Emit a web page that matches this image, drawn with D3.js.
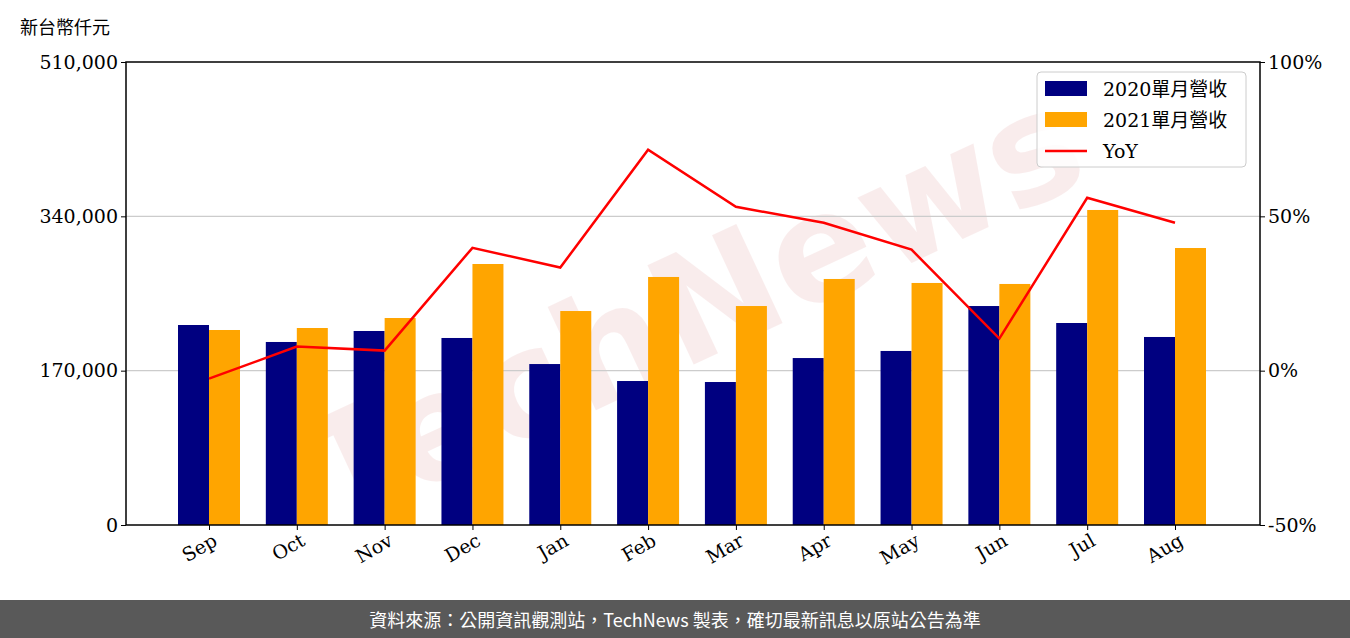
<!DOCTYPE html><html><head><meta charset="utf-8"><script src="https://cdn.jsdelivr.net/npm/d3@7"></script>
<style>body{margin:0;background:#fff}</style></head><body><svg id="c" width="1350" height="638"></svg><script>
const months=["Sep","Oct","Nov","Dec","Jan","Feb","Mar","Apr","May","Jun","Jul","Aug"];
const rev2020=[220300,201600,213700,206000,177300,158600,157500,183900,191700,241200,222500,207100];
const rev2021=[214800,217000,228000,287500,235700,273200,241200,271000,266600,265500,347000,305100];
const yoy=[-2.6,7.8,6.5,39.8,33.4,71.6,53.1,47.9,39.2,10.4,56.0,47.9];
const leftTicks=[0,170000,340000,510000];
const rightTicks=[-50,0,50,100];
const svg=d3.select("#c");
const L=126,R=1260,T=62,B=525;
const x=d3.scaleLinear().domain([0,11]).range([209,1175]);
const y=d3.scaleLinear().domain([0,510000]).range([B,T]);
const y2=d3.scaleLinear().domain([-50,100]).range([B,T]);
const bw=31;
const serif="DejaVu Serif";
svg.append("text").attr("x",690).attr("y",360).attr("text-anchor","middle").attr("font-family","DejaVu Sans").attr("font-weight","bold").attr("font-size",150)
 .attr("transform","rotate(-25,690,300)").attr("fill","#d88").attr("opacity",0.15).text("TechNews");
svg.selectAll(".g").data([170000,340000]).enter().append("line").attr("x1",L).attr("x2",R).attr("y1",d=>y(d)).attr("y2",d=>y(d)).attr("stroke","#ccc").attr("stroke-width",1.2);
svg.selectAll(".b1").data(rev2020).enter().append("rect").attr("x",(d,i)=>x(i)-bw).attr("width",bw).attr("y",d=>y(d)).attr("height",d=>B-y(d)).attr("fill","#000080");
svg.selectAll(".b2").data(rev2021).enter().append("rect").attr("x",(d,i)=>x(i)).attr("width",bw).attr("y",d=>y(d)).attr("height",d=>B-y(d)).attr("fill","#ffa500");
svg.append("path").datum(yoy).attr("d",d3.line().x((d,i)=>x(i)).y(d=>y2(d))).attr("fill","none").attr("stroke","red").attr("stroke-width",2.5);
svg.append("rect").attr("x",L).attr("y",T).attr("width",R-L).attr("height",B-T).attr("fill","none").attr("stroke","#000").attr("stroke-width",1.5);
const la=svg.append("g").attr("transform",`translate(${L},0)`).call(d3.axisLeft(y).tickValues(leftTicks).tickFormat(d3.format(",")).tickSize(5));
const ra=svg.append("g").attr("transform",`translate(${R},0)`).call(d3.axisRight(y2).tickValues(rightTicks).tickFormat(d=>d+"%").tickSize(5));
const ba=svg.append("g").attr("transform",`translate(0,${B})`).call(d3.axisBottom(x).tickValues(d3.range(12)).tickFormat(i=>months[i]).tickSize(5));
[la,ra,ba].forEach(a=>{a.select(".domain").remove();a.selectAll("text").attr("font-family",serif).attr("font-size",19).attr("fill","#000");});
ba.selectAll("text").attr("y",8).attr("text-anchor","end").attr("dx","-0.1em").attr("dy","0.7em").attr("transform","rotate(-30)");
svg.append("text").attr("x",20).attr("y",34).attr("font-family","Noto Sans CJK TC").attr("font-size",18).text("新台幣仟元");
const lg=svg.append("g").attr("transform","translate(1037,72)");
lg.append("rect").attr("width",209).attr("height",95).attr("rx",4).attr("fill","#fff").attr("fill-opacity",0.85).attr("stroke","#ccc");
const items=[["2020單月營收","#000080","rect"],["2021單月營收","#ffa500","rect"],["YoY","red","line"]];
items.forEach((it,i)=>{const gy=17+i*31;
 if(it[2]=="rect")lg.append("rect").attr("x",8).attr("y",gy-8).attr("width",42).attr("height",15).attr("fill",it[1]);
 else lg.append("line").attr("x1",8).attr("x2",50).attr("y1",gy).attr("y2",gy).attr("stroke",it[1]).attr("stroke-width",2.5);
 lg.append("text").attr("x",66).attr("y",gy+7).attr("font-family",serif+", Noto Sans CJK TC").attr("font-size",19).text(it[0]);});
svg.append("rect").attr("x",0).attr("y",600).attr("width",1350).attr("height",38).attr("fill","#595959");
svg.append("text").attr("x",675).attr("y",627).attr("text-anchor","middle").attr("fill","#fff").attr("font-family","Noto Sans CJK TC").attr("font-size",18).text("資料來源：公開資訊觀測站，TechNews 製表，確切最新訊息以原站公告為準");
</script></body></html>
